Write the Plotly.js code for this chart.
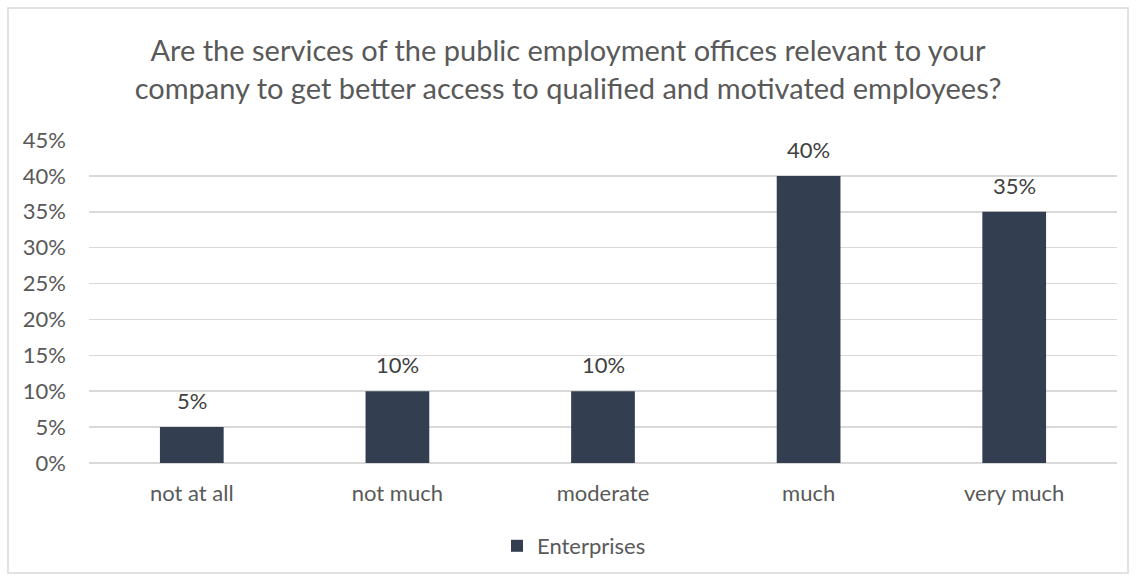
<!DOCTYPE html>
<html><head><meta charset="utf-8">
<script src="https://cdn.plot.ly/plotly-3.0.1.min.js"></script>
<style>html,body{margin:0;padding:0;background:#fff}#chart{width:1136px;height:581px}</style>
</head><body><div id="chart"></div>
<script>
const categories = ["not at all", "not much", "moderate", "much", "very much"];
const enterprises = [0.05, 0.10, 0.10, 0.40, 0.35];
const seriesName = "Enterprises";
const titleText = "Are the services of the public employment offices relevant to your<br>company to get better access to qualified and motivated employees?";

const L = 89, R = 19, T = 140, B = 118, W = 1136, H = 581;
const pw = W - L - R, ph = H - T - B;
const px = v => (v - L) / pw;
const py = v => (H - B - v) / ph;

const fam = "Lato, Open Sans, sans-serif";
const fs = 22;
const font = {family: fam, color: "#595959", size: fs};

const labels = categories.map((c, i) => ({
  x: c, y: enterprises[i], xref: "x", yref: "y",
  text: Math.round(enterprises[i] * 100) + "%",
  showarrow: false, yanchor: "bottom", yshift: 11,
  font: {family: fam, color: "#404040", size: fs}
}));

Plotly.newPlot("chart", [{
  type: "bar",
  x: categories,
  y: enterprises,
  name: seriesName,
  marker: {color: "#333F50"},
  width: 0.31,
  cliponaxis: false,
  showlegend: true,
  hoverinfo: "skip"
}], {
  width: W, height: H,
  margin: {l: L, r: R, t: T, b: B},
  paper_bgcolor: "#fff", plot_bgcolor: "#fff",
  font: font,
  title: {text: titleText, font: {family: fam, size: 29, color: "#595959"}, x: 0.5, xanchor: "center", y: 1 - 61 / H, yanchor: "middle"},
  xaxis: {showgrid: false, showline: false, ticks: "", tickfont: {size: fs, color: "#595959"}, ticklabelstandoff: 15},
  yaxis: {range: [0, 0.45], dtick: 0.05, tickformat: ".0%", showgrid: true, gridcolor: "#D9D9D9", gridwidth: 1.5, zeroline: true, zerolinecolor: "#D9D9D9", zerolinewidth: 1.5, showline: false, ticks: "", tickfont: {size: fs, color: "#595959"}, ticklabelstandoff: 22},
  showlegend: true,
  legend: {orientation: "h", x: px(574), xanchor: "center", y: py(546), yanchor: "middle", font: {size: fs, color: "#595959"}, itemwidth: 30},
  bargap: 0.69,
  annotations: labels,
  shapes: [{type: "rect", xref: "paper", yref: "paper", x0: px(8), x1: px(1128), y0: py(573), y1: py(8), line: {color: "#D9D9D9", width: 1.5}, fillcolor: "rgba(0,0,0,0)", layer: "below"}]
}, {displayModeBar: false, staticPlot: true});
</script></body></html>
